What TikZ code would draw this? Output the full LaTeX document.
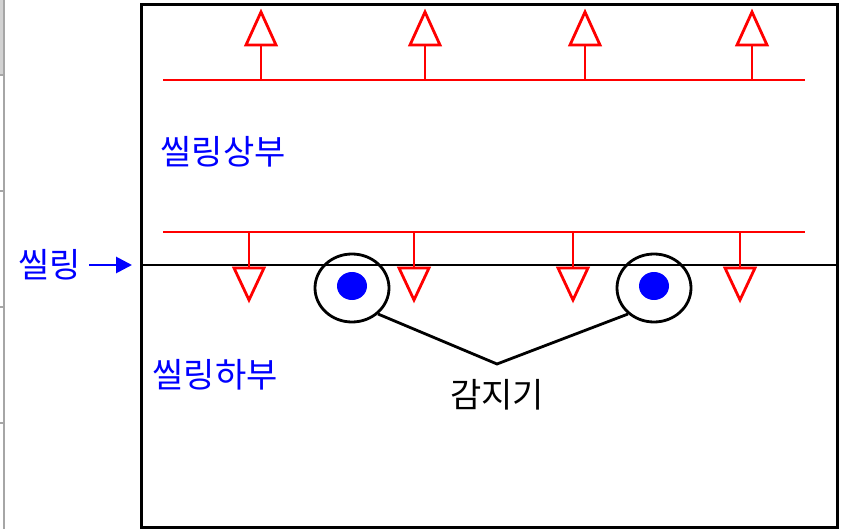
\documentclass[tikz,border=0pt]{standalone}
\usepackage{fontspec}
\newfontfamily\kr{Noto Sans CJK KR}
\usetikzlibrary{shapes.geometric,arrows.meta}
\begin{document}
\begin{tikzpicture}[x=1pt,y=-1pt,
  redline/.style={draw=red,line width=2.8pt},
  uparrow/.style={redline,fill=white,line join=miter},
  sensor/.style={ellipse,draw=black,line width=2.8pt,minimum width=74pt,minimum height=68pt,inner sep=0pt},
  dot/.style={ellipse,fill=blue,minimum width=30pt,minimum height=28pt,inner sep=0pt},
  lbl/.style={font=\kr\fontsize{34}{40}\selectfont,inner sep=0pt},
  side/.style={draw=gray!70,line width=1.2pt}]
\useasboundingbox (0,0) rectangle (843,529);
% left edge artefact
\fill[gray!35] (0,0) rectangle (4,75);
\draw[side] (4,0) -- (4,529);
\foreach \yy in {75,191,307,423} \draw[side] (0,\yy) -- (4,\yy);
% main box
\node[draw=black,line width=3pt,minimum width=696pt,minimum height=523pt,inner sep=0pt,anchor=north west] (box) at (140,3) {};
\coordinate (sealL) at (140,265);
\coordinate (sealR) at (836,265);
\draw[black,line width=2.8pt] (sealL) -- (sealR);
% top red line with up arrows
\coordinate (tL) at (163,80);
\coordinate (tR) at (805,80);
\draw[redline] (tL) -- (tR);
\foreach \xx in {261,425,585,752}{
  \draw[redline] (\xx,80) -- (\xx,45);
  \draw[uparrow] (\xx-15,45) -- (\xx+15,45) -- (\xx,12) -- cycle;
}
% bottom red line with down arrows
\coordinate (bL) at (163,232);
\coordinate (bR) at (805,232);
\draw[redline] (bL) -- (bR);
\foreach \xx in {249,414,573,740}{
  \draw[redline] (\xx,232) -- (\xx,268);
  \draw[uparrow] (\xx-15,268) -- (\xx+15,268) -- (\xx,300) -- cycle;
}
% sensors
\node[sensor] (c1) at (352,288) {};
\node[sensor] (c2) at (654,288) {};
\node[dot] (d1) at (352,286) {};
\node[dot] (d2) at (654,286) {};
\coordinate (v) at (497,364);
\draw[black,line width=2.8pt,line join=miter] (c1.-45) -- (v) -- (c2.-135);
% labels
\node[lbl,text=black] (det) at (497,395) {감지기};
\node[lbl,text=blue] (top) at (223,152) {씰링상부};
\node[lbl,text=blue] (bot) at (215,375) {씰링하부};
\node[lbl,text=blue] (seal) at (50,265) {씰링};
\draw[blue,line width=2.8pt,-{Triangle[length=16pt,width=16pt]},shorten >=8pt] (seal.east) ++(8,0) -- (sealL);
\end{tikzpicture}
\end{document}
